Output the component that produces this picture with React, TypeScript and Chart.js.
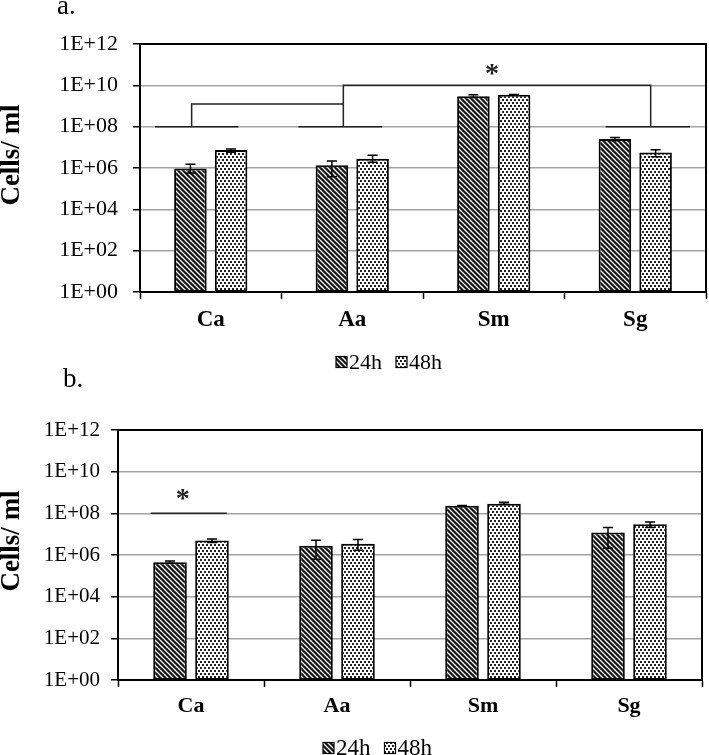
import React, { useEffect, useRef } from 'react';
import { Chart, registerables } from 'chart.js';

Chart.register(...registerables);

// ---------- data ----------
const categories = ['Ca', 'Aa', 'Sm', 'Sg'];
const seriesLabels = ['24h', '48h'];
const yTickValues = [1, 1e2, 1e4, 1e6, 1e8, 1e10, 1e12];
const yAxisTitle = 'Cells/ ml';

// panel a
const a24 = [9.5e5, 1.35e6, 3.0e9, 2.5e7];
const a24Low = [5.8e5, 3.8e5, 2.6e9, 2.1e7];
const a24High = [1.5e6, 2.2e6, 3.5e9, 3.0e7];
const a48 = [7.4e6, 2.8e6, 3.5e9, 5.7e6];
const a48Low = [5.8e6, 1.9e6, 3.3e9, 3.5e6];
const a48High = [8.3e6, 4.1e6, 3.6e9, 7.6e6];
// significance brackets: [category index, value]
const aBrackets: [number, number][][] = [
  [[-0.394, 1e8], [0.195, 1e8]],
  [[0.619, 1e8], [1.212, 1e8]],
  [[2.791, 1e8], [3.387, 1e8]],
  [[-0.135, 1e8], [-0.135, 1.26e9], [0.937, 1.26e9]],
  [[0.937, 1e8], [0.937, 1e10], [3.109, 1e10], [3.109, 1e8]],
];
const aStars: [number, number][] = [[1.988, 6.3e10]];

// panel b
const b24 = [4.5e5, 2.8e6, 2.3e8, 1.2e7];
const b24Low = [4.0e5, 6.2e5, 2.2e8, 2.1e6];
const b24High = [5.2e5, 5.1e6, 2.4e8, 2.1e7];
const b48 = [4.9e6, 3.5e6, 2.9e8, 3.0e7];
const b48Low = [4.0e6, 1.7e6, 2.7e8, 2.1e7];
const b48High = [5.9e6, 5.5e6, 3.4e8, 3.8e7];
const bBrackets: [number, number][][] = [[[-0.276, 1e8], [0.245, 1e8]]];
const bStars: [number, number][] = [[-0.057, 9.1e8]];

const SERIF = "'Liberation Serif', 'Times New Roman', Times, serif";

function fmtTick(v: number) {
  const e = Math.round(Math.log10(v));
  return '1E+' + String(e).padStart(2, '0');
}

function makeHatch(): CanvasPattern {
  const s = 5;
  const c = document.createElement('canvas');
  c.width = s;
  c.height = s;
  const g = c.getContext('2d')!;
  g.fillStyle = '#111';
  g.fillRect(0, 0, s, s);
  g.strokeStyle = '#fff';
  g.lineWidth = 1.3;
  g.beginPath();
  g.moveTo(-1, -1);
  g.lineTo(s + 1, s + 1);
  g.moveTo(-2, s - 2);
  g.lineTo(2, s + 2);
  g.moveTo(s - 2, -2);
  g.lineTo(s + 2, 2);
  g.stroke();
  return g.createPattern(c, 'repeat')!;
}

function makeDots(): CanvasPattern {
  const w = 4;
  const h = 6;
  const c = document.createElement('canvas');
  c.width = w;
  c.height = h;
  const g = c.getContext('2d')!;
  g.fillStyle = '#fff';
  g.fillRect(0, 0, w, h);
  g.fillStyle = '#222';
  g.fillRect(0, 0, 2, 2);
  g.fillRect(2, 3, 2, 2);
  return g.createPattern(c, 'repeat')!;
}

interface PanelSpec {
  panelLabel: string;
  v24: number[];
  lo24: number[];
  hi24: number[];
  v48: number[];
  lo48: number[];
  hi48: number[];
  brackets: [number, number][][];
  stars: [number, number][];
  canvasTop: number;
  height: number;
  chartTop: number;
  chartLeft: number;
  rightPad: number;
  bottomPad: number;
  tickFont: number;
  tickPad: number;
  catFont: number;
  catPad: number;
  legendX: number;
  legendY: number;
  legendFont: number;
  labelX: number;
  labelY: number;
  titleX: number;
  titleY: number;
  titleFont: number;
}

const decorPlugin = {
  id: 'panelDecor',
  beforeDatasetsDraw(chart: any) {
    const { ctx, chartArea } = chart;
    ctx.save();
    ctx.strokeStyle = '#000';
    ctx.lineWidth = 2;
    ctx.beginPath();
    ctx.moveTo(chartArea.left, chartArea.top);
    ctx.lineTo(chartArea.right, chartArea.top);
    ctx.lineTo(chartArea.right, chartArea.bottom);
    ctx.stroke();
    ctx.restore();
  },
  afterDraw(chart: any) {
    const spec: PanelSpec = chart.options.plugins.panelDecor.spec;
    const { ctx } = chart;
    const xs = chart.scales.x;
    const ys = chart.scales.y;
    ctx.save();
    // error bars
    const lows = [spec.lo24, spec.lo48];
    const highs = [spec.hi24, spec.hi48];
    ctx.strokeStyle = '#000';
    ctx.lineWidth = 1.5;
    for (let d = 0; d < 2; d++) {
      const meta = chart.getDatasetMeta(d);
      meta.data.forEach((bar: any, j: number) => {
        const x = bar.x;
        const yl = ys.getPixelForValue(lows[d][j]);
        const yh = ys.getPixelForValue(highs[d][j]);
        ctx.beginPath();
        ctx.moveTo(x, yl);
        ctx.lineTo(x, yh);
        ctx.moveTo(x - 5, yh);
        ctx.lineTo(x + 5, yh);
        ctx.moveTo(x - 5, yl);
        ctx.lineTo(x + 5, yl);
        ctx.stroke();
      });
    }
    // brackets
    ctx.strokeStyle = '#222';
    ctx.lineWidth = 1.5;
    spec.brackets.forEach((pts) => {
      ctx.beginPath();
      pts.forEach(([ci, v], k) => {
        const px = xs.getPixelForValue(ci);
        const py = ys.getPixelForValue(v);
        if (k === 0) ctx.moveTo(px, py);
        else ctx.lineTo(px, py);
      });
      ctx.stroke();
    });
    // stars
    ctx.fillStyle = '#222';
    ctx.font = `bold 28px ${SERIF}`;
    ctx.textAlign = 'center';
    ctx.textBaseline = 'alphabetic';
    spec.stars.forEach(([ci, v]) => {
      const px = xs.getPixelForValue(ci);
      const py = ys.getPixelForValue(v);
      ctx.fillText('*', px, py + 13.5);
    });
    // legend
    const pats = chart.data.datasets.map((ds: any) => ds.backgroundColor);
    ctx.font = `${spec.legendFont}px ${SERIF}`;
    ctx.textAlign = 'left';
    ctx.textBaseline = 'middle';
    let lx = spec.legendX;
    const ly = spec.legendY;
    const bs = 11;
    seriesLabels.forEach((lab, i) => {
      ctx.fillStyle = pats[i];
      ctx.fillRect(lx, ly - bs / 2, bs, bs);
      ctx.strokeStyle = '#000';
      ctx.lineWidth = 1.2;
      ctx.strokeRect(lx, ly - bs / 2, bs, bs);
      lx += bs + 2;
      ctx.fillStyle = '#000';
      ctx.fillText(lab, lx, ly + 1);
      lx += ctx.measureText(lab).width + 14;
    });
    // panel label
    ctx.font = `27px ${SERIF}`;
    ctx.textBaseline = 'alphabetic';
    ctx.fillStyle = '#000';
    ctx.fillText(spec.panelLabel, spec.labelX, spec.labelY);
    // y title
    ctx.translate(spec.titleX, spec.titleY);
    ctx.rotate(-Math.PI / 2);
    ctx.font = `bold ${spec.titleFont}px ${SERIF}`;
    ctx.textAlign = 'center';
    ctx.textBaseline = 'middle';
    ctx.fillText(yAxisTitle, 0, 0);
    ctx.restore();
  },
};

function Panel({ spec }: { spec: PanelSpec }) {
  const ref = useRef<HTMLCanvasElement>(null);
  useEffect(() => {
    const hatch = makeHatch();
    const dots = makeDots();
    const chart = new Chart(ref.current!, {
      type: 'bar',
      data: {
        labels: categories,
        datasets: [
          {
            label: seriesLabels[0],
            data: spec.v24,
            backgroundColor: hatch as any,
            borderColor: '#000',
            borderWidth: 2,
            borderSkipped: false,
            categoryPercentage: 0.575,
            barPercentage: 0.8,
          },
          {
            label: seriesLabels[1],
            data: spec.v48,
            backgroundColor: dots as any,
            borderColor: '#000',
            borderWidth: 2,
            borderSkipped: false,
            categoryPercentage: 0.575,
            barPercentage: 0.8,
          },
        ],
      },
      options: {
        responsive: false,
        animation: false,
        layout: {
          padding: { top: spec.chartTop, left: 0, right: spec.rightPad, bottom: spec.bottomPad },
        },
        plugins: {
          legend: { display: false },
          tooltip: { enabled: false },
          panelDecor: { spec },
        } as any,
        scales: {
          x: {
            type: 'category',
            afterFit: (s: any) => {
              s.height = 40;
            },
            ticks: {
              font: { family: SERIF, size: spec.catFont, weight: 'bold' },
              color: '#000',
              padding: spec.catPad,
              maxRotation: 0,
            },
            grid: {
              display: true,
              drawOnChartArea: false,
              drawTicks: true,
              tickLength: 7,
              tickColor: '#000',
              tickWidth: 1.5,
              offset: true,
            },
            border: { display: true, color: '#000', width: 2 },
          },
          y: {
            type: 'logarithmic',
            min: 1,
            max: 1e12,
            afterBuildTicks: (s: any) => {
              s.ticks = yTickValues.map((v) => ({ value: v }));
            },
            afterFit: (s: any) => {
              s.width = spec.chartLeft;
            },
            ticks: {
              callback: (v: any) => fmtTick(Number(v)),
              font: { family: SERIF, size: spec.tickFont },
              color: '#000',
              padding: spec.tickPad,
              autoSkip: false,
            },
            grid: {
              color: (c: any) =>
                c.tick && (c.tick.value === 1 || c.tick.value === 1e12) ? 'rgba(0,0,0,0)' : '#a3a3a3',
              lineWidth: 1.5,
              drawTicks: true,
              tickLength: 7,
              tickColor: '#000',
              tickWidth: 1.5,
            },
            border: { display: true, color: '#000', width: 2 },
          },
        },
      },
      plugins: [decorPlugin as any],
    });
    return () => chart.destroy();
  }, [spec]);
  return (
    <canvas
      ref={ref}
      width={709}
      height={spec.height}
      style={{ position: 'absolute', left: 0, top: spec.canvasTop, width: 709, height: spec.height }}
    />
  );
}

const specA: PanelSpec = {
  panelLabel: 'a.',
  v24: a24,
  lo24: a24Low,
  hi24: a24High,
  v48: a48,
  lo48: a48Low,
  hi48: a48High,
  brackets: aBrackets,
  stars: aStars,
  canvasTop: 0,
  height: 375,
  chartTop: 44,
  chartLeft: 140,
  rightPad: 3,
  bottomPad: 43,
  tickFont: 22,
  tickPad: 15,
  catFont: 23,
  catPad: 7,
  legendX: 336,
  legendY: 362,
  legendFont: 22,
  labelX: 57,
  labelY: 14,
  titleX: 12.5,
  titleY: 155,
  titleFont: 27,
};

const specB: PanelSpec = {
  panelLabel: 'b.',
  v24: b24,
  lo24: b24Low,
  hi24: b24High,
  v48: b48,
  lo48: b48Low,
  hi48: b48High,
  brackets: bBrackets,
  stars: bStars,
  canvasTop: 355,
  height: 400,
  chartTop: 75,
  chartLeft: 118,
  rightPad: 7,
  bottomPad: 35,
  tickFont: 21,
  tickPad: 11,
  catFont: 22,
  catPad: 6,
  legendX: 323,
  legendY: 393,
  legendFont: 23,
  labelX: 63,
  labelY: 32,
  titleX: 12.5,
  titleY: 186,
  titleFont: 27,
};

export default function App() {
  return (
    <div style={{ position: 'absolute', left: 0, top: 0, width: 709, height: 755, background: '#fff' }}>
      <Panel spec={specA} />
      <Panel spec={specB} />
    </div>
  );
}
